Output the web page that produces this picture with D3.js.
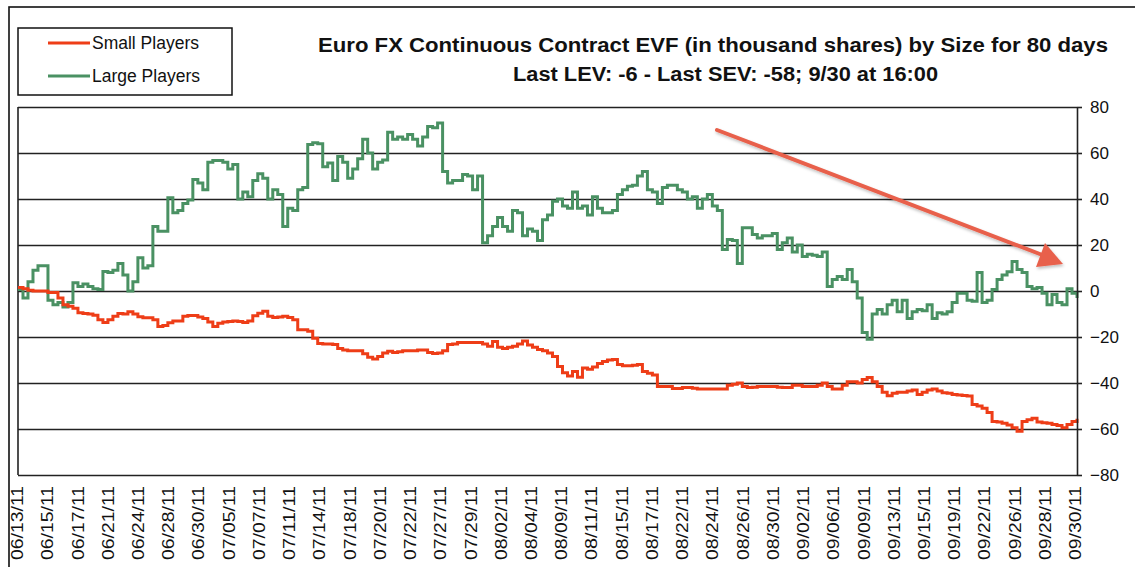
<!DOCTYPE html>
<html><head><meta charset="utf-8">
<script src="https://cdn.jsdelivr.net/npm/d3@7/dist/d3.min.js"></script>
<style>
html,body{margin:0;padding:0;background:#fff;}
svg{display:block;font-family:"Liberation Sans",Arial,sans-serif;}
</style></head><body>
<svg id="chart" width="1135" height="567"></svg>
<script>
const titleLines = ["Euro FX Continuous Contract EVF (in thousand shares) by Size for 80 days",
                    "Last LEV: -6 - Last SEV: -58; 9/30 at 16:00"];
const seriesNames = ["Small Players", "Large Players"];
const dateLabels = ["06/13/11","06/15/11","06/17/11","06/21/11","06/24/11","06/28/11","06/30/11","07/05/11",
  "07/07/11","07/11/11","07/14/11","07/18/11","07/20/11","07/22/11","07/27/11","07/29/11","08/02/11","08/04/11",
  "08/09/11","08/11/11","08/15/11","08/17/11","08/22/11","08/24/11","08/26/11","08/30/11","09/02/11","09/06/11",
  "09/09/11","09/13/11","09/15/11","09/19/11","09/22/11","09/26/11","09/28/11","09/30/11"];
const yTicks = [80,60,40,20,0,-20,-40,-60,-80];

// Large Players (green), sampled evenly over the 80 days
const largePlayers = [0.6,-3,4,9,11,11,-4,-6,-5,-7,-5,3.6,2,3,2,1,0.6,8.5,8,9,12,7,0,4,14.5,10,11,28,26,26,
  40.5,34,35,38,39.6,48.5,47,44,56,56.7,56.7,56,53,55,40,43,41,48,51,49,40,44,42,28,36,35,44,45,63.7,64.5,
  64,54,55.6,48,58.5,56,49,53,57.5,66,60,53,56,57,69,66,67,66,68,66,63,67,71.5,71,73,52,47,48,48,50.6,
  50,44,50,21,24,28,32,28,26,35,34,24,27,26,22,31,33,39,40,37,36,43,36,37,33,41,36,34,34,35,
  42,44,45.5,46,50,52,44,43,38,45,46,46,44,43,40,41,36,40,42,37,35,18,22.4,22,12,27.5,27.5,24.6,23,24,
  24,25,18,21,23,17,20,15,16,15.5,15,17,2,5,6.3,5,9.3,4,-3,-18,-21,-10,-8,-10,-6,-4,-9,-4,
  -12,-9,-8,-8.6,-6,-12,-9.5,-10,-9,-5,-1,-1,-4,-4.5,8,-5,-4,0.6,5,7,8.4,12.8,9.3,8,2,1,1.5,-1,
  -6,-1.5,-5,-6,1,-1,-3];

// Small Players (red)
const smallPlayers = [1.5,1,0.3,0,0,0,-0.7,-0.7,-3,-6,-6.6,-7.5,-9.5,-9.8,-10,-10.5,-12.5,-13.7,-12.5,-11,
  -9.8,-10,-9,-10,-11.2,-11.6,-11.6,-12.5,-15.4,-15,-13.8,-13,-13,-11,-10.6,-10.6,-11.3,-12,-13.5,-15.4,
  -14,-13.5,-13.3,-13,-13.3,-13.7,-13,-10.8,-9.7,-8.8,-11,-11.5,-11.3,-11,-11.5,-12.5,-16.8,-16.8,-17.5,-20.5,
  -22.8,-23,-23,-23.3,-25,-25.6,-26,-26,-26,-27.3,-28.8,-29.6,-28.5,-27,-26.2,-26.7,-26.4,-26,-26,-26,
  -25.6,-25.6,-26.7,-27.2,-27,-26,-23.3,-23,-22.4,-22.4,-22.4,-22.4,-22.4,-23,-24,-22,-24.5,-25,-24.5,-24,
  -23,-21.7,-23.5,-24.5,-25.4,-26,-27,-28.5,-32.8,-35.5,-37,-35,-37.5,-33.5,-34,-33,-31.5,-30.6,-30,-29.8,
  -32,-32.5,-32.5,-32.3,-32,-35,-35.8,-36.5,-41.5,-41.5,-41.5,-42.4,-42.4,-42,-42,-42.3,-42.6,-42.6,-42.6,-42.6,
  -42.6,-42.6,-41,-40.5,-40,-41.5,-42,-41.8,-41.5,-41.5,-41.5,-41.5,-41.8,-42,-42,-41,-41,-41.5,-41.5,-41.5,
  -41,-40,-41.5,-42.6,-42.6,-41,-39.5,-39.5,-40,-38.5,-37.6,-39.5,-41.5,-44,-45.5,-44.5,-44,-44,-43.5,-43,
  -45,-44,-43,-42.6,-43.5,-44.2,-44.5,-45,-45.2,-45.4,-45.6,-49.3,-50,-51,-52.8,-56.7,-57,-57.5,-58.3,-59.5,
  -61,-56.7,-56,-55.3,-57,-57.3,-57.5,-58,-58.5,-59.5,-58,-56.7,-55.5];

const colors = {small:"#ee3d17", large:"#4a9163", arrow:"#e8604b"};

const svg = d3.select("#chart");
const L = 18, R = 1077, T = 107, B = 475;

// outer frame
svg.append("rect").attr("x",9).attr("y",7).attr("width",1140).attr("height",580)
  .attr("fill","none").attr("stroke","#111").attr("stroke-width",1.6);

const y = d3.scaleLinear().domain([-80,80]).range([B,T]);
const xLab = d3.scalePoint().domain(dateLabels).range([L-1, R-2]);

// gridlines
svg.append("g").attr("transform",`translate(${L},0)`)
  .call(d3.axisRight(y).tickValues(yTicks).tickSize(R-L).tickFormat(""))
  .call(g=>g.select(".domain").remove())
  .call(g=>g.selectAll("line").attr("stroke","#222").attr("stroke-width",1.6));

// left border
svg.append("line").attr("x1",L).attr("x2",L).attr("y1",T).attr("y2",B)
  .attr("stroke","#222").attr("stroke-width",1.6);

// series
function drawSeries(vals, color){
  const x = d3.scaleLinear().domain([0, vals.length-1]).range([L, R]);
  const line = d3.line().x((d,i)=>x(i)).y(d=>y(d)).curve(d3.curveStepAfter);
  svg.append("path").datum(vals).attr("d",line).attr("fill","none")
    .attr("stroke",color).attr("stroke-width",3).attr("stroke-linejoin","miter");
}
drawSeries(largePlayers, colors.large);
drawSeries(smallPlayers, colors.small);

// right axis
const yAxis = svg.append("g").attr("transform",`translate(${R},0)`)
  .call(d3.axisRight(y).tickValues(yTicks).tickSize(5).tickPadding(8).tickSizeOuter(0));
yAxis.select(".domain").attr("stroke","#222").attr("stroke-width",1.6);
yAxis.selectAll("line").attr("stroke","#222").attr("stroke-width",1.6);
yAxis.selectAll("text").attr("font-size",17).attr("fill","#111")
  .attr("font-family","'Liberation Sans',Arial,sans-serif");

// x labels
const xAxis = svg.append("g").attr("transform",`translate(0,${B})`)
  .call(d3.axisBottom(xLab).tickSize(0).tickPadding(0));
xAxis.select(".domain").remove();
xAxis.selectAll("text")
  .attr("transform", d=>`translate(0,11) rotate(-90)`)
  .attr("x",0).attr("y",0).attr("dy","0.35em")
  .attr("text-anchor","end")
  .attr("font-size",16).attr("fill","#111")
  .attr("font-family","'Liberation Sans',Arial,sans-serif")
  .attr("textLength",74).attr("lengthAdjust","spacingAndGlyphs");

// arrow
const defs = svg.append("defs");
const f = defs.append("filter").attr("id","sh").attr("x","-10%").attr("y","-10%").attr("width","130%").attr("height","140%");
f.append("feDropShadow").attr("dx",1).attr("dy",2).attr("stdDeviation",1.5).attr("flood-color","#000").attr("flood-opacity",0.25);
const ag = svg.append("g").attr("filter","url(#sh)");
ag.append("line").attr("x1",717).attr("y1",130).attr("x2",1045).attr("y2",256)
  .attr("stroke",colors.arrow).attr("stroke-width",4).attr("stroke-linecap","round");
ag.append("path").attr("d","M1063,264 L1045,243 L1036,267 Z").attr("fill",colors.arrow);

// legend
svg.append("rect").attr("x",18).attr("y",28).attr("width",214).attr("height",67)
  .attr("fill","#fff").attr("stroke","#111").attr("stroke-width",1.5);
const leg = [{n:seriesNames[0], c:colors.small, y:43},{n:seriesNames[1], c:colors.large, y:76}];
leg.forEach(d=>{
  svg.append("line").attr("x1",48).attr("x2",90).attr("y1",d.y).attr("y2",d.y)
    .attr("stroke",d.c).attr("stroke-width",3);
  svg.append("text").attr("x",92).attr("y",d.y+6).attr("font-size",17.5).attr("fill","#111").text(d.n);
});

// title
svg.append("text").attr("x",318).attr("y",52).attr("font-size",20).attr("font-weight","bold")
  .attr("font-family","'Liberation Sans Narrow','Liberation Sans',Arial,sans-serif")
  .attr("textLength",790).attr("lengthAdjust","spacingAndGlyphs").attr("fill","#111").text(titleLines[0]);
svg.append("text").attr("x",513).attr("y",81).attr("font-size",20).attr("font-weight","bold")
  .attr("font-family","'Liberation Sans Narrow','Liberation Sans',Arial,sans-serif")
  .attr("textLength",425).attr("lengthAdjust","spacingAndGlyphs").attr("fill","#111").text(titleLines[1]);
</script>
</body></html>
